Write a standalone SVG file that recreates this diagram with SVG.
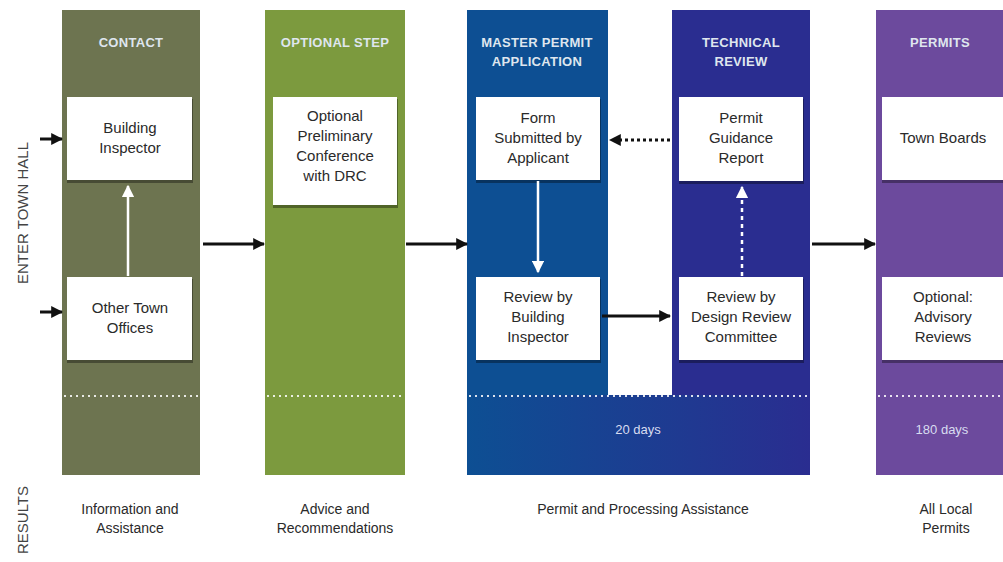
<svg xmlns="http://www.w3.org/2000/svg" width="1003" height="562" viewBox="0 0 1003 562">
<defs>
<marker id="ah" viewBox="0 0 10 10" refX="9" refY="5" markerWidth="4" markerHeight="4" orient="auto"><path d="M0,0 L10,5 L0,10 z" fill="#111"/></marker>
<marker id="aw" viewBox="0 0 10 10" refX="9" refY="5" markerWidth="5" markerHeight="5" orient="auto"><path d="M0,0 L10,5 L0,10 z" fill="#fff"/></marker>
<linearGradient id="bg" x1="0" y1="0" x2="1" y2="0"><stop offset="0" stop-color="#0d4f93"/><stop offset="1" stop-color="#2a2d90"/></linearGradient>
<style>
.box{fill:#fff;}
.sh{fill:#000;opacity:0.35;}
.bt{font-family:"Liberation Sans Narrow","Liberation Sans",sans-serif;font-size:15px;fill:#2a2a2a;text-anchor:middle;}
.hd{font-family:"Liberation Sans Narrow","Liberation Sans",sans-serif;font-size:13px;font-weight:bold;fill:#dfe6ee;text-anchor:middle;letter-spacing:0.3px;}
.rt{font-family:"Liberation Sans Narrow","Liberation Sans",sans-serif;font-size:14px;fill:#2a2a2a;text-anchor:middle;}
.side{font-family:"Liberation Sans","Arial",sans-serif;font-size:15px;fill:#444;text-anchor:middle;}
.dot{stroke:#fff;stroke-width:2;stroke-dasharray:2 4;opacity:0.85;}
.ln{stroke:#111;stroke-width:3;fill:none;}
.wl{stroke:#fff;stroke-width:2.5;fill:none;}
.dy{font-family:"Liberation Sans Narrow","Liberation Sans",sans-serif;font-size:13px;fill:#d8dcf0;text-anchor:middle;}
</style>
</defs>
<rect width="1003" height="562" fill="#fff"/>

<text class="side" transform="translate(28,213) rotate(-90)">ENTER TOWN HALL</text>
<text class="side" transform="translate(28,520) rotate(-90)">RESULTS</text>

<g id="col-contact">
<rect x="62" y="10" width="138" height="465" fill="#6d7450"/>
<text class="hd" x="131" y="47">CONTACT</text>
<line class="dot" x1="64" y1="396" x2="200" y2="396"/>
</g>
<g id="col-optional">
<rect x="265" y="10" width="140" height="465" fill="#7c9a3e"/>
<text class="hd" x="335" y="47">OPTIONAL STEP</text>
<line class="dot" x1="267" y1="396" x2="405" y2="396"/>
</g>
<g id="col-master">
<path d="M467,10 H608 V395 H672 V10 H810 V475 H467 Z" fill="url(#bg)"/>
<rect x="467" y="10" width="141" height="385" fill="#0d4f93"/>
<rect x="672" y="10" width="138" height="385" fill="#2a2d90"/>
<text class="hd" x="537" y="47">MASTER PERMIT</text>
<text class="hd" x="537" y="66">APPLICATION</text>
<line class="dot" x1="469" y1="396" x2="810" y2="396"/>
<text class="dy" x="638" y="434">20 days</text>
</g>
<g id="col-technical">
<text class="hd" x="741" y="47">TECHNICAL</text>
<text class="hd" x="741" y="66">REVIEW</text>
</g>
<g id="col-permits">
<rect x="876" y="10" width="127" height="465" fill="#6c4a9d"/>
<text class="hd" x="940" y="47">PERMITS</text>
<line class="dot" x1="878" y1="396" x2="1003" y2="396"/>
<text class="dy" x="942" y="434">180 days</text>
</g>

<g id="n-building-inspector">
<rect class="sh" x="67" y="99" width="126" height="84"/>
<rect class="box" x="67" y="97" width="125" height="83"/>
<text class="bt" x="130" y="133">Building</text>
<text class="bt" x="130" y="153">Inspector</text>
</g>
<g id="n-other-offices">
<rect class="sh" x="67" y="279" width="126" height="84"/>
<rect class="box" x="67" y="277" width="125" height="83"/>
<text class="bt" x="130" y="313">Other Town</text>
<text class="bt" x="130" y="333">Offices</text>
</g>
<g id="n-optional-conf">
<rect class="sh" x="273" y="99" width="125" height="109"/>
<rect class="box" x="273" y="97" width="124" height="108"/>
<text class="bt" x="335" y="121">Optional</text>
<text class="bt" x="335" y="141">Preliminary</text>
<text class="bt" x="335" y="161">Conference</text>
<text class="bt" x="335" y="181">with DRC</text>
</g>
<g id="n-form">
<rect class="sh" x="476" y="99" width="125" height="84"/>
<rect class="box" x="476" y="97" width="124" height="83"/>
<text class="bt" x="538" y="123">Form</text>
<text class="bt" x="538" y="143">Submitted by</text>
<text class="bt" x="538" y="163">Applicant</text>
</g>
<g id="n-review-bi">
<rect class="sh" x="476" y="279" width="125" height="84"/>
<rect class="box" x="476" y="277" width="124" height="83"/>
<text class="bt" x="538" y="302">Review by</text>
<text class="bt" x="538" y="322">Building</text>
<text class="bt" x="538" y="342">Inspector</text>
</g>
<g id="n-guidance">
<rect class="sh" x="679" y="99" width="125" height="85"/>
<rect class="box" x="679" y="97" width="124" height="84"/>
<text class="bt" x="741" y="123">Permit</text>
<text class="bt" x="741" y="143">Guidance</text>
<text class="bt" x="741" y="163">Report</text>
</g>
<g id="n-review-drc">
<rect class="sh" x="679" y="279" width="125" height="84"/>
<rect class="box" x="679" y="277" width="124" height="83"/>
<text class="bt" x="741" y="302">Review by</text>
<text class="bt" x="741" y="322">Design Review</text>
<text class="bt" x="741" y="342">Committee</text>
</g>
<g id="n-town-boards">
<rect class="sh" x="882" y="99" width="121" height="84"/>
<rect class="box" x="882" y="97" width="121" height="83"/>
<text class="bt" x="943" y="143">Town Boards</text>
</g>
<g id="n-advisory">
<rect class="sh" x="882" y="279" width="121" height="84"/>
<rect class="box" x="882" y="277" width="121" height="83"/>
<text class="bt" x="943" y="302">Optional:</text>
<text class="bt" x="943" y="322">Advisory</text>
<text class="bt" x="943" y="342">Reviews</text>
</g>

<g id="results">
<text class="rt" x="130" y="514">Information and</text>
<text class="rt" x="130" y="533">Assistance</text>
<text class="rt" x="335" y="514">Advice and</text>
<text class="rt" x="335" y="533">Recommendations</text>
<text class="rt" x="643" y="514">Permit and Processing Assistance</text>
<text class="rt" x="946" y="514">All Local</text>
<text class="rt" x="946" y="533">Permits</text>
</g>

<g id="connectors">
<line class="ln" x1="40" y1="139" x2="62" y2="139" marker-end="url(#ah)"/>
<line class="ln" x1="40" y1="312" x2="62" y2="312" marker-end="url(#ah)"/>
<line class="wl" x1="128" y1="276" x2="128" y2="186" marker-end="url(#aw)"/>
<line class="ln" x1="203" y1="244" x2="264" y2="244" marker-end="url(#ah)"/>
<line class="ln" x1="406" y1="244" x2="467" y2="244" marker-end="url(#ah)"/>
<line class="wl" x1="538" y1="181" x2="538" y2="272" marker-end="url(#aw)"/>
<line class="ln" x1="670" y1="140" x2="610" y2="140" stroke-dasharray="3 3" marker-end="url(#ah)"/>
<line class="ln" x1="602" y1="316" x2="670" y2="316" marker-end="url(#ah)"/>
<line class="wl" x1="742" y1="276" x2="742" y2="187" stroke-dasharray="4 4" marker-end="url(#aw)"/>
<line class="ln" x1="812" y1="244" x2="875" y2="244" marker-end="url(#ah)"/>
</g>
</svg>
